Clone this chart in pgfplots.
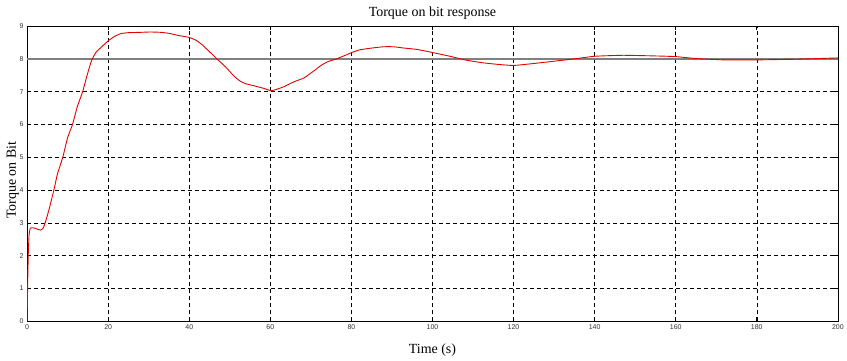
\documentclass[border=0pt]{standalone}
\usepackage{fontspec}
\setmainfont{Liberation Serif}
\newfontfamily\tickfont{Liberation Sans}
\usepackage{pgfplots}
\pgfplotsset{compat=1.18}
\begin{document}
\begin{tikzpicture}
\begin{axis}[
  scale only axis,
  width=813pt, height=296pt,
  xmin=0, xmax=200, ymin=0, ymax=9,
  xtick={0,20,...,200}, ytick={0,1,...,9},
  grid=major,
  major grid style={black, dash pattern=on 4pt off 3pt, line width=0.5pt},
  tick align=inside,
  major tick length=4pt,
  tick style={black, line width=0.6pt},
  axis line style={black, line width=0.7pt},
  xtick pos=both, ytick pos=both,
  /pgf/number format/assume math mode=true,
  tick label style={font=\tickfont\fontsize{7}{8}\selectfont, text=black!80},
  title={\rule{0pt}{17pt}Torque on bit response},
  title style={font=\fontsize{14}{16}\selectfont, at={(axis description cs:0.5,1)}, anchor=south, inner sep=0pt},
  xlabel={\rule[-7pt]{0pt}{0pt}Time (s)},
  ylabel={\rule{0pt}{16pt}Torque on Bit},
  label style={font=\fontsize{14}{16}\selectfont},
  xlabel style={at={(axis description cs:0.5,0)}, anchor=north, inner sep=0pt, yshift=-22pt},
  ylabel style={at={(axis description cs:0,0.478)}, anchor=south, inner sep=0pt, yshift=8pt},
]
\addplot[black!50, line width=1.3pt, forget plot] coordinates {(0,8) (200,8)};
\addplot[red!90!black, line width=0.9pt, smooth, tension=0.3] coordinates {
(0,0) (0.15,1.2) (0.3,2.1) (0.5,2.65) (0.8,2.84) (1.5,2.85) (2.3,2.82) (3.3,2.78)
(4,2.85) (4.7,3.1) (5.5,3.45) (6.2,3.8) (6.7,4.05) (7.5,4.5) (8.8,5.0)
(10,5.6) (11.2,6.0) (12.4,6.55) (13.7,7.0) (14.8,7.5) (15.9,7.95) (17,8.2)
(18.5,8.38) (20,8.55) (21.5,8.68) (23.1,8.77) (25,8.8) (28,8.81) (30.4,8.82)
(33,8.81) (35,8.78) (37.5,8.71) (39.8,8.66) (41.5,8.58) (43,8.45) (45,8.22)
(47,7.98) (49,7.75) (51,7.48) (52.6,7.32) (54,7.24) (56,7.18) (58.4,7.1) (60.2,7.03)
(61.5,7.07) (63.3,7.15) (65.8,7.30) (68.3,7.42) (70.8,7.64) (72.5,7.80)
(74.1,7.91) (76.5,8.01) (78.5,8.11) (80.2,8.20) (82.2,8.28) (85,8.33)
(87.9,8.37) (90.4,8.37) (93,8.33) (96.1,8.29) (100.2,8.19) (104.3,8.08)
(108.4,7.96) (112.5,7.88) (116.4,7.83) (120,7.80) (125,7.86) (130,7.93)
(135,8.0) (140,8.08) (147,8.11) (155,8.09) (160,8.07) (165,8.01)
(172,7.97) (180,7.97) (185,7.98) (190,7.99) (195,8.01) (200,8.03)
};
\end{axis}
\end{tikzpicture}
\end{document}
